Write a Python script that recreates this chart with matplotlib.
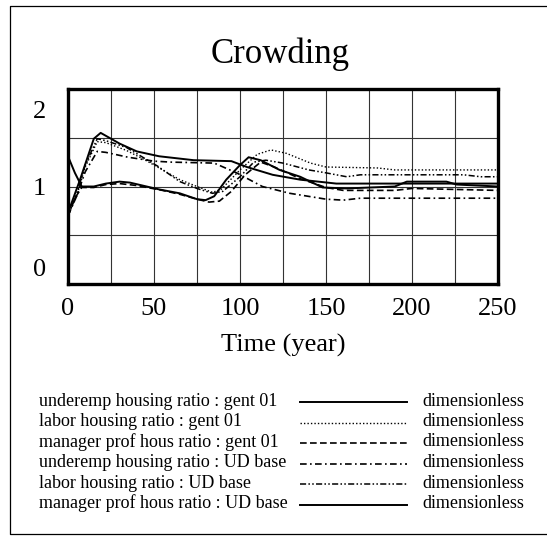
import matplotlib
matplotlib.use('Agg')
import matplotlib.pyplot as plt
import matplotlib.transforms as mtransforms
from matplotlib.lines import Line2D

plt.rcParams['font.family'] = ['Liberation Serif', 'DejaVu Serif']

# Series (time in years, value dimensionless)
t_underemp_gent = [0, 4, 8, 15, 22, 30, 36, 53, 65, 75, 80, 85, 92, 100, 105, 112, 123, 135, 148, 162, 190, 197, 220, 226, 250]
v_underemp_gent = [1.31, 1.14, 1.00, 1.00, 1.03, 1.05, 1.04, 0.97, 0.93, 0.87, 0.86, 0.90, 1.07, 1.22, 1.30, 1.27, 1.17, 1.10, 0.99, 0.98, 1.00, 1.05, 1.05, 1.02, 1.00]

t_labor_gent = [0, 5, 10, 17, 22, 34, 45, 55, 65, 75, 84, 89, 100, 110, 118, 127, 141, 150, 180, 190, 250]
v_labor_gent = [0.70, 0.90, 1.20, 1.46, 1.45, 1.37, 1.27, 1.17, 1.07, 1.00, 0.94, 0.97, 1.17, 1.33, 1.375, 1.34, 1.24, 1.20, 1.19, 1.17, 1.17]

t_manager_gent = [0, 4, 8, 15, 22, 30, 40, 55, 65, 75, 82, 88, 95, 103, 112, 120, 135, 150, 160, 190, 200, 225, 250]
v_manager_gent = [0.70, 0.88, 0.99, 0.99, 1.02, 1.03, 1.01, 0.96, 0.92, 0.87, 0.84, 0.85, 0.95, 1.12, 1.25, 1.20, 1.08, 0.99, 0.96, 0.96, 0.98, 0.97, 0.96]

t_underemp_ud = [0, 5, 10, 17, 22, 35, 50, 60, 85, 98, 113, 129, 150, 160, 170, 250]
v_underemp_ud = [0.70, 0.90, 1.15, 1.36, 1.35, 1.30, 1.26, 1.25, 1.24, 1.14, 1.00, 0.93, 0.87, 0.86, 0.88, 0.88]

t_labor_ud = [0, 5, 10, 17, 22, 34, 52, 65, 75, 84, 90, 100, 108, 115, 125, 140, 150, 162, 170, 230, 240, 250]
v_labor_ud = [0.70, 0.92, 1.22, 1.49, 1.47, 1.40, 1.21, 1.05, 0.98, 0.93, 0.95, 1.10, 1.25, 1.27, 1.24, 1.17, 1.14, 1.10, 1.12, 1.12, 1.10, 1.10]

t_manager_ud = [0, 7, 15, 19, 30, 40, 53, 73, 95, 104, 119, 135, 156, 250]
v_manager_ud = [0.73, 1.07, 1.49, 1.55, 1.44, 1.36, 1.31, 1.27, 1.26, 1.20, 1.12, 1.07, 1.03, 1.03]

labels = ['underemp housing ratio : gent 01',
          'labor housing ratio : gent 01',
          'manager prof hous ratio : gent 01',
          'underemp housing ratio : UD base',
          'labor housing ratio : UD base',
          'manager prof hous ratio : UD base']
units = 'dimensionless'

x_ticks = [0, 50, 100, 150, 200, 250]
y_ticks = [0, 1, 2]

styles = [dict(ls='-', lw=1.4),
          dict(ls=(0, (1, 1.5)), lw=1.0),
          dict(ls=(0, (4, 2)), lw=1.2),
          dict(ls=(0, (4, 2, 1, 2)), lw=1.2),
          dict(ls=(0, (4, 1.5, 1, 1.5, 1, 1.5)), lw=1.1),
          dict(ls='-', lw=1.4)]

series = [(t_underemp_gent, v_underemp_gent),
          (t_labor_gent, v_labor_gent),
          (t_manager_gent, v_manager_gent),
          (t_underemp_ud, v_underemp_ud),
          (t_labor_ud, v_labor_ud),
          (t_manager_ud, v_manager_ud)]

W, H = 547, 536
fig = plt.figure(figsize=(W / 100, H / 100), dpi=100)

def fx(x):
    return x / W

def fy(y):
    return 1 - y / H

ax = fig.add_axes([fx(68), fy(284), fx(498) - fx(68), fy(89) - fy(284)])

for (t, v), st in zip(series, styles):
    ax.plot(t, v, color='black', **st)

ax.set_xlim(0, 250)
ax.set_ylim(0, 2)
ax.set_xticks(x_ticks)
ax.set_yticks(y_ticks)
ax.set_xticks(range(0, 251, 25), minor=True)
ax.set_yticks([0.5, 1.5], minor=True)
ax.grid(True, which='both', color='#333333', lw=0.8)
ax.tick_params(which='both', length=0)
ax.tick_params(axis='x', pad=10, labelsize=19)
ax.tick_params(axis='y', pad=16, labelsize=19)
for sp in ax.spines.values():
    sp.set_linewidth(2.4)

# Vensim puts the end labels inside the axis range
ylab = ax.get_yticklabels()
ylab[2].set_transform(ylab[2].get_transform() + mtransforms.ScaledTranslation(0, -0.20, fig.dpi_scale_trans))
ylab[0].set_transform(ylab[0].get_transform() + mtransforms.ScaledTranslation(0, 0.17, fig.dpi_scale_trans))

fig.text(fx(280), fy(63), 'Crowding', ha='center', va='baseline', fontsize=25)
fig.text(fx(283), fy(352), 'Time (year)', ha='center', va='baseline', fontsize=19)

# legend rows
rows = [401, 421.5, 442, 462.5, 483, 503.5]
for y, lab, st in zip(rows, labels, styles):
    fig.text(fx(39), fy(y), lab, ha='left', va='center', fontsize=13)
    fig.add_artist(Line2D([fx(300), fx(407)], [fy(y + 1), fy(y + 1)], color='black', **st))
    fig.text(fx(422), fy(y), units, ha='left', va='center', fontsize=13)

# outer frame (right edge is cut off in the reference)
fig.add_artist(Line2D([fx(560), fx(9.5), fx(9.5), fx(560)], [fy(5.5), fy(5.5), fy(533.5), fy(533.5)],
                      color='black', lw=0.9))

fig.savefig('out.png', dpi=100)
